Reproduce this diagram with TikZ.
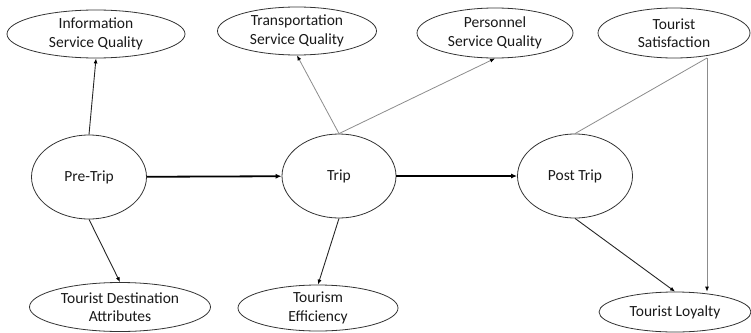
\documentclass[tikz,border=0pt]{standalone}
\usepackage{fontspec}
\setmainfont{Carlito}
\usetikzlibrary{shapes.geometric,arrows.meta}
\begin{document}
\begin{tikzpicture}[x=1pt,y=-1pt,
  construct/.style={ellipse, draw=black!80, line width=0.8pt, inner sep=0pt,
    align=center, font=\fontsize{15.5}{18.5}\selectfont, text=black!90},
  tip/.style={-{Latex[length=5pt,width=4pt,color=black]}},
  link/.style={tip, draw=black!85, line width=0.9pt},
  faint/.style={draw=black!45, line width=0.8pt},
  faintlink/.style={faint, tip},
  flow/.style={-{Latex[length=6pt,width=5pt]}, line width=1.8pt}]
\useasboundingbox (0,0) rectangle (751,332);

% measured constructs
\node[construct, minimum width=178pt, minimum height=48pt] (info)  at (96,34)  {Information\\Service Quality};
\node[construct, minimum width=159pt, minimum height=48pt] (trans) at (297,31)  {Transportation\\Service Quality};
\node[construct, minimum width=156pt, minimum height=50pt] (pers)  at (495,33)  {Personnel\\Service Quality};
\node[construct, minimum width=152pt, minimum height=50pt] (sat)   at (674,33)  {Tourist\\Satisfaction};

% trip stages
\node[construct, minimum width=115pt, minimum height=84pt] (pre)  at (89,177)  {Pre-Trip};
\node[construct, minimum width=114pt, minimum height=84pt] (trip) at (339,176) {Trip};
\node[construct, minimum width=115pt, minimum height=84pt] (post) at (575,176) {Post Trip};

% outcomes
\node[construct, minimum width=181pt, minimum height=49pt] (tda) at (120,307) {Tourist Destination\\Attributes};
\node[construct, minimum width=160pt, minimum height=46pt] (eff) at (318,308) {Tourism\\Efficiency};
\node[construct, minimum width=152pt, minimum height=40pt] (loy) at (675,312) {Tourist Loyalty};

\coordinate (satfoot) at (707,58);

% main sequence
\draw[flow] (pre) -- (trip);
\draw[flow] (trip) -- (post);

% pre-trip relations
\draw[link] (pre.north) -- (info.south);
\draw[link] (pre.south) -- (tda.north);

% trip relations
\draw[faintlink] (trip.north) -- (trans.south);
\draw[faintlink] (trip.north) -- (pers.south);
\draw[link] (trip.south) -- (eff.north);

% post-trip relations
\draw[link] (post.south) -- (loy.north);
\draw[faint] (satfoot) -- (post.north);
\draw[faintlink] (satfoot) -- (satfoot |- loy.north);
\end{tikzpicture}
\end{document}
